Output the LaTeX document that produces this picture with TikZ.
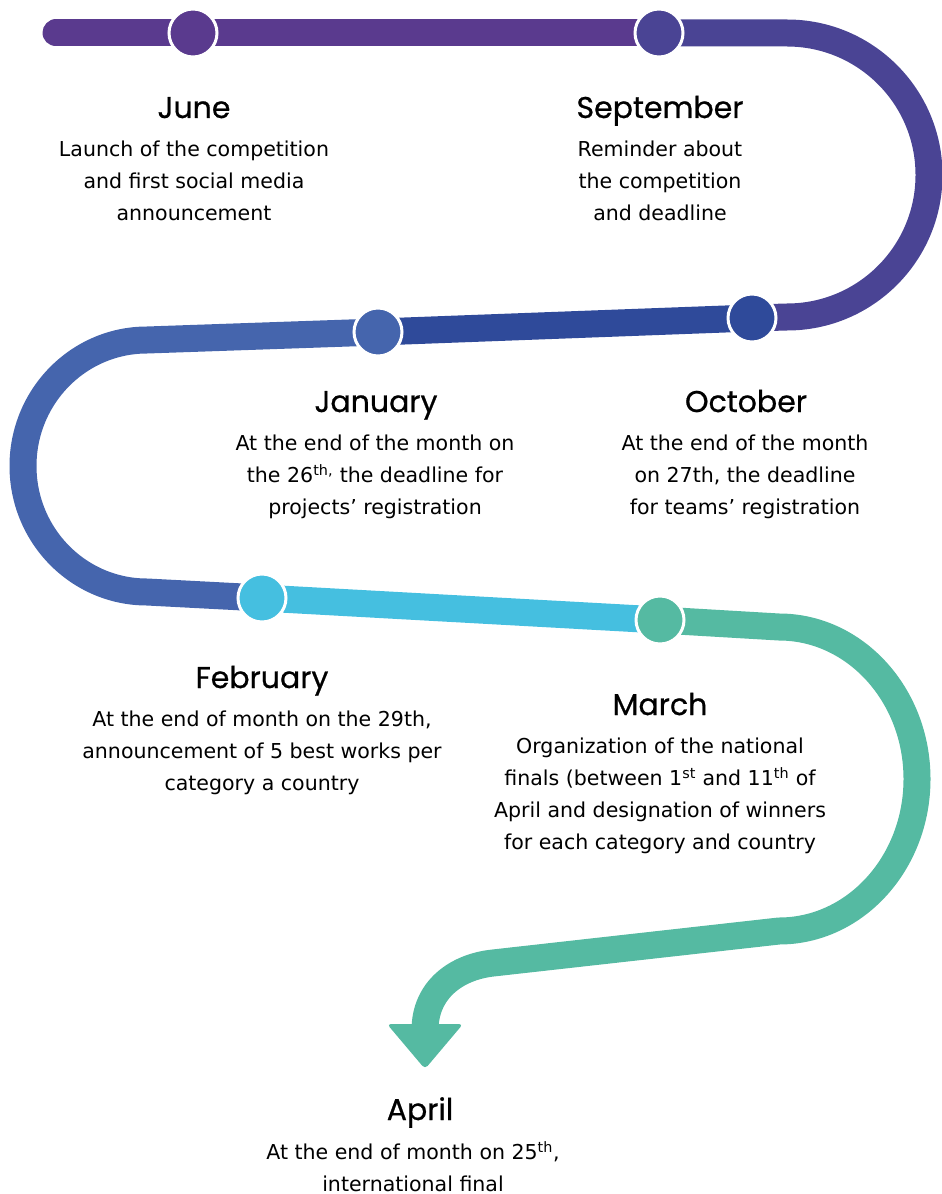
\documentclass[tikz,border=0pt]{standalone}
\usepackage{fontspec}
\setmainfont{DejaVu Sans}
\newfontfamily\headfont[FakeBold=0.7]{Poppins}
\definecolor{Pa}{RGB}{90,58,142}
\definecolor{Pb}{RGB}{74,68,148}
\definecolor{Ba}{RGB}{47,74,154}
\definecolor{Bb}{RGB}{69,101,173}
\definecolor{Cy}{RGB}{69,191,224}
\definecolor{Gr}{RGB}{85,186,162}
\tikzset{
  seg/.style={line width=20.25pt, line cap=butt, line join=round},
  dot/.style={circle, draw=white, line width=2.25pt, minimum size=36pt, inner sep=0pt},
  head/.style={anchor=base, inner sep=0pt, font=\headfont\fontsize{22.5pt}{27pt}\selectfont},
  body/.style={anchor=north, inner sep=0pt, align=center, font=\fontsize{15.4pt}{24pt}\selectfont}
}
\begin{document}
\begin{tikzpicture}[x=0.75pt,y=-0.75pt]
\useasboundingbox (0,0) rectangle (941,1194);
% anchor coordinates
\coordinate (start) at (56,33);
\coordinate (cJun) at (193,33);
\coordinate (cSep) at (659,33);
\coordinate (cOct) at (752,318);
\coordinate (cJan) at (378,332);
\coordinate (cFeb) at (262,598);
\coordinate (cMar) at (660,620);
\coordinate (tail) at (425,1030);
% path segments
\draw[seg, Pa, line cap=round] (start) -- (cSep);
\draw[seg, Pb] (cSep) -- (787,33) arc[start angle=-90, end angle=90, radius=142] -- (cOct);
\draw[seg, Ba] (cOct) -- (cJan);
\draw[seg, Bb] (cJan) -- (147,340) arc[start angle=-90, end angle=-270, x radius=124, y radius=126] -- (cFeb);
\draw[seg, Cy] (cFeb) -- (cMar);
\draw[seg, Gr] (cMar) -- (779,627) arc[start angle=-90, end angle=90, x radius=138, y radius=152] -- (493,963) .. controls (456,967) and (425,990) .. (tail);
\fill[Gr, rounded corners=3pt] (387,1024) -- (463,1024) -- (425,1069) -- cycle;
% milestone dots
\node[dot, fill=Pa] (jun) at (cJun) {};
\node[dot, fill=Pb] (sep) at (cSep) {};
\node[dot, fill=Ba] (oct) at (cOct) {};
\node[dot, fill=Bb] (jan) at (cJan) {};
\node[dot, fill=Cy] (feb) at (cFeb) {};
\node[dot, fill=Gr] (mar) at (cMar) {};
% texts
\node[head] (hJun) at (194,118) {June};
\node[body] (tJun) at (194,133.6) {\strut Launch of the competition\\and first social media\\announcement};
\node[head] (hSep) at (660,118) {September};
\node[body] (tSep) at (660,133.6) {\strut Reminder about\\the competition\\and deadline};
\node[head] (hJan) at (376,412) {January};
\node[body] (tJan) at (375,427.6) {\strut At the end of the month on\\the 26\textsuperscript{th,} the deadline for\\projects’ registration};
\node[head] (hOct) at (746,412) {October};
\node[body] (tOct) at (745,427.6) {\strut At the end of the month\\on 27th, the deadline\\for teams’ registration};
\node[head] (hFeb) at (262,688) {February};
\node[body] (tFeb) at (262,703.6) {\strut At the end of month on the 29th,\\announcement of 5 best works per\\category a country};
\node[head] (hMar) at (660,715) {March};
\node[body] (tMar) at (660,730.6) {\strut Organization of the national\\finals (between 1\textsuperscript{st} and 11\textsuperscript{th} of\\April and designation of winners\\for each category and country};
\node[head] (hApr) at (420,1120) {April};
\node[body] (tApr) at (413,1136.6) {\strut At the end of month on 25\textsuperscript{th},\\international final};
\end{tikzpicture}
\end{document}
